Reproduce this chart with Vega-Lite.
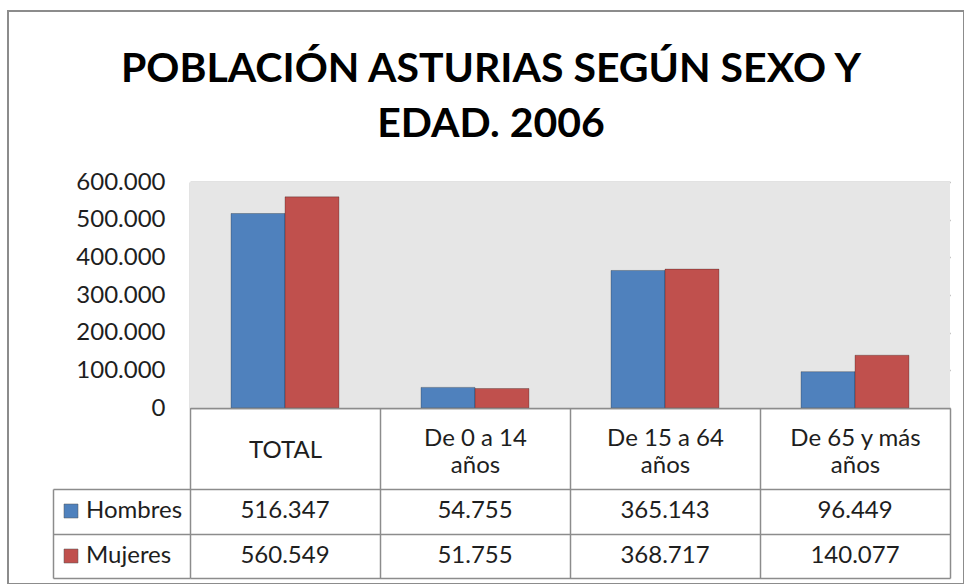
{
  "$schema": "https://vega.github.io/schema/vega-lite/v6.json",
  "width": 956,
  "height": 573,
  "autosize": {"type": "none"},
  "padding": {"left": 8, "top": 11, "right": 0, "bottom": 0},
  "background": "white",
  "config": {
    "locale": {"number": {"decimal": ",", "thousands": ".", "grouping": [3], "currency": ["", " €"]}},
    "view": {"stroke": "#8c8c8c", "strokeWidth": 2, "fill": "white"}
  },
  "title": {
    "text": ["POBLACIÓN ASTURIAS SEGÚN SEXO Y", "EDAD. 2006"],
    "font": "Lato",
    "fontSize": 41,
    "fontWeight": "bold",
    "lineHeight": 55,
    "anchor": "middle",
    "frame": "group",
    "offset": -135,
    "dx": 5,
    "color": "#000000"
  },
  "data": {
    "values": [
      {"categoria": "TOTAL", "sexo": "Hombres", "valor": 516347},
      {"categoria": "TOTAL", "sexo": "Mujeres", "valor": 560549},
      {"categoria": "De 0 a 14 años", "sexo": "Hombres", "valor": 54755},
      {"categoria": "De 0 a 14 años", "sexo": "Mujeres", "valor": 51755},
      {"categoria": "De 15 a 64 años", "sexo": "Hombres", "valor": 365143},
      {"categoria": "De 15 a 64 años", "sexo": "Mujeres", "valor": 368717},
      {"categoria": "De 65 y más años", "sexo": "Hombres", "valor": 96449},
      {"categoria": "De 65 y más años", "sexo": "Mujeres", "valor": 140077}
    ]
  },
  "layer": [
    {
      "layer": [
        {
          "transform": [{"filter": "datum.sexo == 'Hombres'"}],
          "mark": {"type": "rect", "fill": "#e6e6e6"},
          "encoding": {
            "x": {
              "field": "categoria", "type": "nominal",
              "scale": {"domain": ["TOTAL", "De 0 a 14 años", "De 15 a 64 años", "De 65 y más años"], "range": [182, 942], "paddingInner": 0, "paddingOuter": 0},
              "axis": {
                "orient": "bottom", "offset": -176, "title": null,
                "domain": true, "domainColor": "#8c8c8c", "domainWidth": 1.5,
                "ticks": true, "tickBand": "extent", "tickSize": 170, "tickColor": "#8c8c8c", "tickWidth": 1.5,
                "labelPadding": -140,
                "labelBaseline": {"condition": {"test": "datum.label == 'TOTAL'", "value": "top"}, "value": "middle"},
                "labelAngle": 0,
                "labelFont": "Lato", "labelFontSize": 24, "labelColor": "#1e1e1e", "labelLineHeight": 27,
                "labelExpr": "isString(datum.label) && indexof(datum.label, ' años') > 0 ? [replace(datum.label, ' años', ''), 'años'] : datum.label",
                "grid": false
              }
            },
            "y": {
              "datum": 0, "type": "quantitative",
              "scale": {"domain": [0, 600000], "range": [397, 171], "nice": false},
              "axis": {
                "orient": "left", "offset": -182, "title": null,
                "values": [0, 100000, 200000, 300000, 400000, 500000, 600000],
                "format": ",.0f",
                "grid": true, "gridColor": "#8c8c8c", "gridWidth": 1.5,
                "domain": true, "domainColor": "#8c8c8c", "domainWidth": 1.5,
                "ticks": false, "labelPadding": 25,
                "labelFont": "Lato", "labelFontSize": 24, "labelColor": "#1e1e1e"
              }
            },
            "y2": {"datum": 600000}
          }
        },
        {
          "mark": {"type": "bar", "stroke": "#000000", "strokeOpacity": 0.25, "strokeWidth": 1},
          "encoding": {
            "x": {
              "field": "categoria", "type": "nominal",
              "scale": {"domain": ["TOTAL", "De 0 a 14 años", "De 15 a 64 años", "De 65 y más años"], "range": [182, 942], "paddingInner": 0, "paddingOuter": 0}
            },
            "xOffset": {"field": "sexo", "type": "nominal", "scale": {"domain": ["Hombres", "Mujeres"], "paddingInner": 0, "paddingOuter": 0.76}},
            "y": {"field": "valor", "type": "quantitative"},
            "color": {
              "field": "sexo", "type": "nominal",
              "scale": {"domain": ["Hombres", "Mujeres"], "range": ["#4F81BD", "#C0504D"]},
              "legend": {
                "orient": "none", "legendX": 51, "legendY": 488, "title": null,
                "symbolType": "square", "symbolSize": 196, "symbolStrokeColor": "#555555", "symbolStrokeWidth": 0.5,
                "labelFont": "Lato", "labelFontSize": 24, "labelColor": "#1e1e1e",
                "rowPadding": 21, "labelOffset": 3, "padding": 0
              }
            }
          }
        }
      ]
    },
    {
      "mark": {"type": "text", "font": "Lato", "fontSize": 24, "color": "#1e1e1e"},
      "encoding": {
        "x": {
          "field": "categoria", "type": "nominal",
          "scale": {"domain": ["TOTAL", "De 0 a 14 años", "De 15 a 64 años", "De 65 y más años"], "range": [182, 942], "paddingInner": 0, "paddingOuter": 0}
        },
        "y": {
          "field": "sexo", "type": "nominal",
          "scale": {"domain": ["Hombres", "Mujeres"], "range": [478, 567], "paddingInner": 0, "paddingOuter": 0},
          "axis": {
            "orient": "left", "offset": -45, "title": null, "labels": false,
            "domain": true, "domainColor": "#8c8c8c", "domainWidth": 1.5,
            "ticks": true, "tickBand": "extent", "tickSize": -137, "tickColor": "#8c8c8c", "tickWidth": 1.5,
            "grid": true, "gridColor": "#8c8c8c", "gridWidth": 1.5
          }
        },
        "text": {"field": "valor", "type": "quantitative", "format": ",.0f"}
      }
    }
  ],
  "resolve": {"scale": {"y": "independent"}}
}
